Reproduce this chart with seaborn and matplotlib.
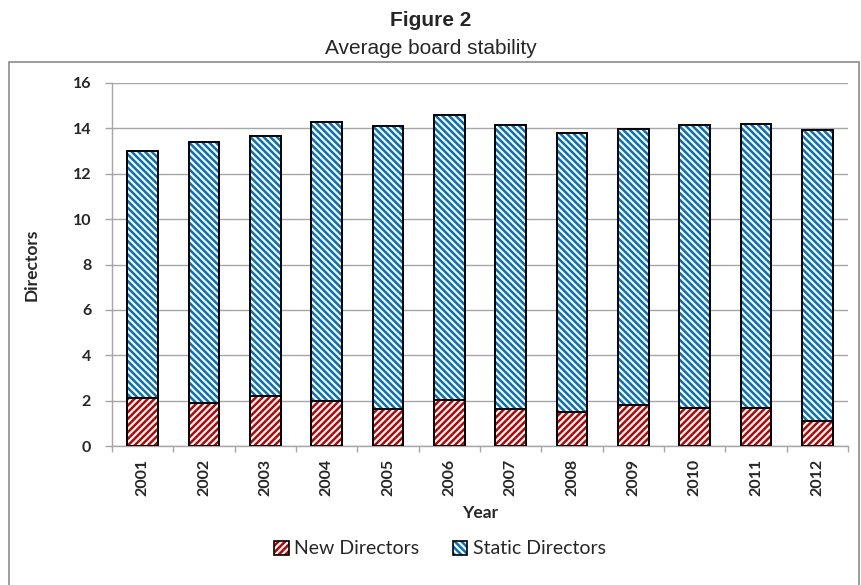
import pandas as pd
import matplotlib.pyplot as plt
import seaborn as sns
from matplotlib.patches import Rectangle, Patch
from matplotlib.ticker import FixedLocator

# data
years = ["2001", "2002", "2003", "2004", "2005", "2006",
         "2007", "2008", "2009", "2010", "2011", "2012"]
new_directors = [2.11, 1.91, 2.22, 2.00, 1.63, 2.02, 1.63, 1.51, 1.79, 1.69, 1.69, 1.10]
total_directors = [12.99, 13.39, 13.68, 14.26, 14.10, 14.58, 14.15, 13.79, 13.96, 14.15, 14.19, 13.92]
y_ticks = [0, 2, 4, 6, 8, 10, 12, 14, 16]

df = pd.DataFrame({"Year": years, "New": new_directors, "Total": total_directors})
df["Static"] = df["Total"] - df["New"]

sns.set_theme(style="white")
plt.rcParams["font.family"] = ["Lato", "DejaVu Sans"]
plt.rcParams["hatch.linewidth"] = 1.8

red = "#C00000"
blue = "#0070C0"
grid_col = "#A6A6A6"
hatch_new = "/////"
hatch_static = "\\\\\\\\\\"

fig = plt.figure(figsize=(8.61, 5.85), dpi=100)
W, H = 861, 585
ax = fig.add_axes([112 / W, 1 - 446 / H, 736 / W, 363 / H])

# stacked bars: total first (static on top), then new on the bottom
sns.barplot(data=df, x="Year", y="Total", color=blue, width=0.5, ax=ax, saturation=1)
n = len(ax.patches)
sns.barplot(data=df, x="Year", y="New", color=red, width=0.5, ax=ax, saturation=1)

for i, p in enumerate(ax.patches):
    col = blue if i < n else red
    p.set_facecolor("white")
    p.set_edgecolor(col)
    p.set_hatch(hatch_static if i < n else hatch_new)
    p.set_linewidth(0)
    ax.add_patch(Rectangle(p.get_xy(), p.get_width(), p.get_height(),
                           fill=False, edgecolor="black", lw=1.4, zorder=3))

ax.set_ylim(0, 16)
ax.set_xlim(-0.5, len(years) - 0.5)
ax.set_yticks(y_ticks)
ax.set_yticklabels([str(t) for t in y_ticks], fontsize=11.5, fontweight="bold")
ax.set_xticks(range(len(years)))
ax.set_xticklabels(years, rotation=90, fontsize=11.5, fontweight="bold")
ax.xaxis.set_minor_locator(FixedLocator([i - 0.5 for i in range(len(years) + 1)]))
ax.tick_params(axis="x", which="major", length=0, pad=9)
ax.tick_params(axis="x", which="minor", length=4, width=1, color=grid_col, direction="out", bottom=True)
ax.tick_params(axis="y", length=5, width=1, color=grid_col, direction="out", left=True, pad=10)

ax.yaxis.grid(True, color=grid_col, lw=1)
ax.set_axisbelow(True)
for s in ["top", "right"]:
    ax.spines[s].set_visible(False)
for s in ["left", "bottom"]:
    ax.spines[s].set_color(grid_col)
    ax.spines[s].set_linewidth(1)

ax.set_xlabel("Year", fontsize=12.5, fontweight="bold", labelpad=7)
ax.set_ylabel("Directors", fontsize=12.5, fontweight="bold", labelpad=24)

# chart frame
fig.patches.append(Rectangle((9 / W, -0.01), 850 / W, 1.01 - 62 / H,
                             transform=fig.transFigure, fill=False,
                             edgecolor="#8C8C8C", lw=1.2))

fig.text(0.5, 1 - 20 / H, "Figure 2", ha="center", va="center",
         fontsize=15, fontweight="bold", family="Liberation Sans")
fig.text(0.5, 1 - 49 / H, "Average board stability", ha="center", va="center",
         fontsize=15, family="Liberation Sans")

# legend with hatched squares and black outline
h_new = (Patch(facecolor="white", edgecolor=red, hatch=hatch_new, lw=0),
         Patch(facecolor="none", edgecolor="black", lw=1.2))
h_static = (Patch(facecolor="white", edgecolor=blue, hatch=hatch_static, lw=0),
            Patch(facecolor="none", edgecolor="black", lw=1.2))
fig.legend([h_new, h_static], ["New Directors", "Static Directors"],
           loc="center", bbox_to_anchor=(440 / W, 1 - 549 / H), ncol=2,
           frameon=False, fontsize=14, handlelength=0.75, handleheight=0.75,
           handletextpad=0.3, columnspacing=1.7)

fig.savefig("out.png", dpi=100)
